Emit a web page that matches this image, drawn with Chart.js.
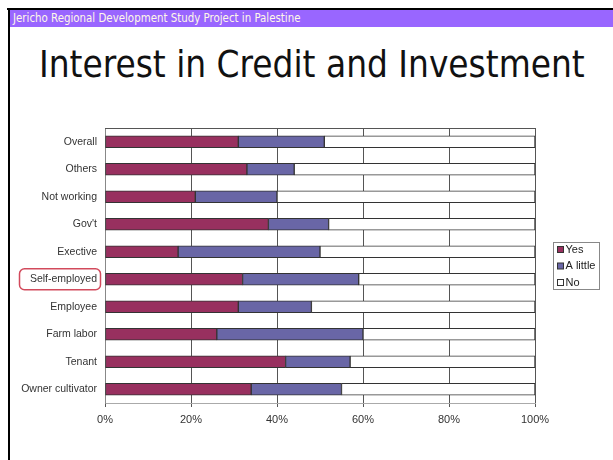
<!DOCTYPE html>
<html>
<head>
<meta charset="utf-8">
<script src="https://cdn.jsdelivr.net/npm/chart.js@4.4.1/dist/chart.umd.min.js"></script>
<style>
  html, body { margin: 0; padding: 0; background: #fff; }
  body { width: 613px; height: 460px; position: relative; overflow: hidden; }
  #frameTop { position: absolute; left: 7px; top: 8px; width: 606px; height: 2px; background: #000; }
  #frameLeft { position: absolute; left: 8px; top: 8px; width: 2px; height: 452px; background: #000; }
  #header { position: absolute; left: 10px; top: 10px; width: 603px; height: 17px; background: #9966ff;
            color: #fff8e8; font-family: "DejaVu Sans Condensed", "DejaVu Sans", sans-serif; font-size: 11px;
            line-height: 17px; padding-left: 3px; white-space: nowrap; box-sizing: border-box; }
  #title { position: absolute; left: 39px; top: 47px; white-space: nowrap; color: #111;
           font-family: "DejaVu Sans Condensed", "DejaVu Sans", sans-serif; font-size: 36px; line-height: 1; }
  #chart { position: absolute; left: 0; top: 0; }
</style>
</head>
<body>
<div id="frameTop"></div>
<div id="frameLeft"></div>
<div id="header"><span id="headerText">Jericho Regional Development Study Project in Palestine</span></div>
<div id="title">Interest in Credit and Investment</div>
<canvas id="chart" width="613" height="460"></canvas>
<script>
// datos (porcentaje por categoria)
const categories = ['Overall', 'Others', 'Not working', "Gov't", 'Exective', 'Self-employed', 'Employee', 'Farm labor', 'Tenant', 'Owner cultivator'];
const yesValues = [31, 33, 21, 38, 17, 32, 31, 26, 42, 34];
const aLittleValues = [20, 11, 19, 14, 33, 27, 17, 34, 15, 21];
const noValues = [49, 56, 60, 48, 50, 41, 52, 40, 43, 45];
const seriesNames = ['Yes', 'A little', 'No'];
const xTickLabels = ['0%', '20%', '40%', '60%', '80%', '100%'];
const highlighted = 'Self-employed';

// ajustar el texto al ancho que tiene en la imagen
function fitText(el, targetWidth) {
    const ctx = document.createElement('canvas').getContext('2d');
    const cs = getComputedStyle(el);
    ctx.font = '100px ' + cs.fontFamily;
    const w = ctx.measureText(el.textContent).width;
    el.style.fontSize = (100 * targetWidth / w) + 'px';
}
fitText(document.getElementById('title'), 546);
fitText(document.getElementById('headerText'), 288);

const labelFont = { family: '"Liberation Sans", Arial, sans-serif', size: 11 };
const catFont = { family: '"Liberation Sans", Arial, sans-serif', size: 10.5 };

// borde del area, recuadro rojo y leyenda con marco
const extras = {
    id: 'extras',
    afterDatasetsDraw(chart) {
        const ctx = chart.ctx;
        const a = chart.chartArea;
        ctx.save();
        ctx.strokeStyle = '#555';
        ctx.lineWidth = 1;
        ctx.beginPath();
        ctx.moveTo(a.left, a.top + 0.5);
        ctx.lineTo(a.right, a.top + 0.5);
        ctx.stroke();
        ctx.restore();
    },
    afterDraw(chart) {
        const ctx = chart.ctx;
        const a = chart.chartArea;
        const yScale = chart.scales.y;

        // recuadro alrededor de la categoria marcada
        const yc = yScale.getPixelForValue(categories.indexOf(highlighted));
        ctx.save();
        ctx.strokeStyle = '#d24a5c';
        ctx.lineWidth = 1.5;
        ctx.beginPath();
        ctx.roundRect(19.5, yc - 10.5, 81, 21, 5);
        ctx.stroke();
        ctx.restore();

        // leyenda
        const lx = a.right + 18.5, ly = 242.5, lw = 46, lh = 47;
        ctx.save();
        ctx.fillStyle = '#fff';
        ctx.strokeStyle = '#888';
        ctx.lineWidth = 1;
        ctx.fillRect(lx, ly, lw, lh);
        ctx.strokeRect(lx, ly, lw, lh);
        ctx.font = '11px "Liberation Sans", Arial, sans-serif';
        ctx.textBaseline = 'middle';
        chart.data.datasets.forEach((ds, i) => {
            const cy = ly + 7 + i * 16.5;
            ctx.fillStyle = ds.backgroundColor;
            ctx.fillRect(lx + 4, cy - 3, 6, 6);
            ctx.strokeStyle = '#333';
            ctx.strokeRect(lx + 4, cy - 3, 6, 6);
            ctx.fillStyle = '#222';
            ctx.fillText(ds.label, lx + 12, cy);
        });
        ctx.restore();
    }
};

const ctx = document.getElementById('chart').getContext('2d');
const chart = new Chart(ctx, {
    type: 'bar',
    data: {
        labels: categories,
        datasets: [
            { label: seriesNames[0], data: yesValues, backgroundColor: '#98305f' },
            { label: seriesNames[1], data: aLittleValues, backgroundColor: '#6966a6' },
            { label: seriesNames[2], data: noValues, backgroundColor: '#ffffff' }
        ]
    },
    options: {
        indexAxis: 'y',
        responsive: false,
        animation: false,
        layout: { padding: { top: 128, right: 78, left: 0, bottom: 0 } },
        datasets: {
            bar: {
                borderColor: '#333',
                borderWidth: 1,
                borderSkipped: false,
                barThickness: 12
            }
        },
        plugins: {
            legend: { display: false },
            tooltip: { enabled: false }
        },
        scales: {
            x: {
                stacked: true,
                min: 0,
                max: 100,
                afterFit(scale) { scale.height = 57; },
                ticks: {
                    stepSize: 20,
                    padding: 6,
                    color: '#333',
                    font: labelFont,
                    callback: (v, i) => xTickLabels[i]
                },
                grid: { color: '#555', lineWidth: 1, tickLength: 4 },
                border: { color: '#aaa' }
            },
            y: {
                stacked: true,
                afterFit(scale) { scale.width = 105; },
                ticks: { padding: 8, color: '#333', font: catFont },
                grid: { display: false, drawTicks: false },
                border: { color: '#888' }
            }
        }
    },
    plugins: [extras]
});
</script>
</body>
</html>
